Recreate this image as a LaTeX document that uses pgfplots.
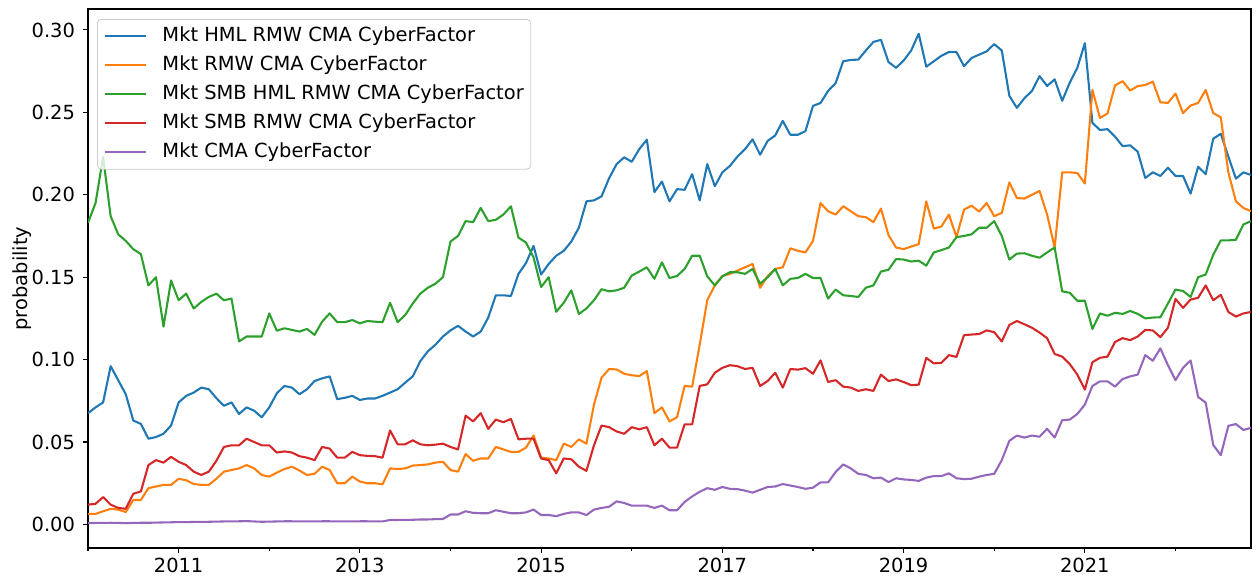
\documentclass[border=0pt]{standalone}
\usepackage{fontspec}
\setmainfont{DejaVu Sans}
\usepackage{pgfplots}
\pgfplotsset{compat=1.18}
\usepackage{pgfplotstable}
\usetikzlibrary{calc}
\definecolor{c0}{HTML}{1F77B4}
\definecolor{c1}{HTML}{FF7F0E}
\definecolor{c2}{HTML}{2CA02C}
\definecolor{c3}{HTML}{D62728}
\definecolor{c4}{HTML}{9467BD}
\newcommand{\ff}{\fontsize{9.72pt}{11.7pt}\selectfont}
\pgfplotstableread{
i blue orange green red purple
0 0.0675 0.0064 0.183 0.012 0.0008
1 0.071 0.0064 0.195 0.0125 0.0009
2 0.074 0.008 0.223 0.0166 0.0009
3 0.096 0.0095 0.187 0.012 0.0010
4 0.0875 0.009 0.176 0.010 0.0009
5 0.079 0.0075 0.172 0.0095 0.0008
6 0.063 0.0148 0.167 0.0186 0.0009
7 0.061 0.0148 0.164 0.020 0.0010
8 0.052 0.022 0.145 0.036 0.0010
9 0.053 0.023 0.150 0.039 0.0011
10 0.055 0.024 0.120 0.0375 0.0012
11 0.060 0.024 0.148 0.041 0.0013
12 0.074 0.0277 0.136 0.038 0.0014
13 0.078 0.0268 0.140 0.036 0.0014
14 0.080 0.0245 0.131 0.032 0.0015
15 0.083 0.024 0.135 0.030 0.0015
16 0.082 0.024 0.138 0.032 0.0016
17 0.0766 0.0277 0.140 0.0386 0.0017
18 0.072 0.032 0.136 0.047 0.0018
19 0.074 0.033 0.137 0.048 0.0018
20 0.067 0.034 0.111 0.048 0.0019
21 0.071 0.036 0.114 0.052 0.0020
22 0.069 0.034 0.114 0.050 0.0018
23 0.065 0.030 0.114 0.048 0.0016
24 0.071 0.029 0.128 0.048 0.0017
25 0.0795 0.0314 0.1175 0.0436 0.0018
26 0.084 0.0336 0.119 0.0443 0.0019
27 0.083 0.035 0.118 0.0436 0.0019
28 0.079 0.0327 0.117 0.0414 0.0018
29 0.082 0.030 0.1186 0.0405 0.0018
30 0.087 0.0307 0.115 0.039 0.0018
31 0.0886 0.035 0.123 0.047 0.0019
32 0.0898 0.033 0.128 0.046 0.0019
33 0.076 0.025 0.1227 0.0405 0.0018
34 0.0768 0.025 0.1227 0.0405 0.0018
35 0.078 0.029 0.124 0.044 0.0018
36 0.0755 0.026 0.122 0.042 0.0019
37 0.0764 0.025 0.1234 0.0416 0.0019
38 0.0764 0.025 0.123 0.0414 0.0018
39 0.078 0.0243 0.1227 0.0405 0.0018
40 0.080 0.034 0.1345 0.057 0.0027
41 0.082 0.0336 0.1227 0.0486 0.0027
42 0.086 0.034 0.127 0.0486 0.0028
43 0.0898 0.0357 0.134 0.051 0.0028
44 0.099 0.036 0.140 0.0486 0.0030
45 0.105 0.0364 0.1436 0.048 0.0030
46 0.109 0.0375 0.146 0.0484 0.0032
47 0.114 0.038 0.150 0.049 0.0033
48 0.1177 0.033 0.1716 0.047 0.006
49 0.1205 0.032 0.175 0.0455 0.006
50 0.117 0.0427 0.184 0.066 0.008
51 0.114 0.0386 0.1834 0.0625 0.007
52 0.117 0.040 0.192 0.0675 0.0068
53 0.1255 0.040 0.184 0.058 0.0068
54 0.139 0.047 0.1848 0.0636 0.0086
55 0.139 0.0455 0.188 0.062 0.0077
56 0.1386 0.044 0.193 0.064 0.0068
57 0.152 0.044 0.174 0.0516 0.0068
58 0.1586 0.0466 0.171 0.052 0.0073
59 0.169 0.054 0.162 0.052 0.009
60 0.1516 0.0405 0.144 0.040 0.0057
61 0.158 0.040 0.150 0.039 0.0057
62 0.163 0.039 0.129 0.031 0.005
63 0.166 0.049 0.1345 0.040 0.0064
64 0.1716 0.047 0.142 0.0395 0.0073
65 0.180 0.0516 0.1277 0.035 0.0073
66 0.196 0.049 0.131 0.0325 0.0057
67 0.1966 0.0727 0.136 0.048 0.009
68 0.199 0.089 0.1427 0.060 0.010
69 0.210 0.0943 0.1414 0.059 0.0107
70 0.2186 0.094 0.142 0.0564 0.014
71 0.2227 0.0914 0.1436 0.055 0.013
72 0.220 0.0905 0.151 0.059 0.0114
73 0.2277 0.090 0.1534 0.0577 0.0114
74 0.2334 0.093 0.156 0.059 0.0114
75 0.2016 0.0675 0.149 0.048 0.010
76 0.208 0.071 0.159 0.052 0.0114
77 0.196 0.0625 0.1495 0.0466 0.0086
78 0.2034 0.065 0.1507 0.0466 0.0086
79 0.203 0.084 0.155 0.0607 0.0136
80 0.2125 0.0836 0.163 0.0607 0.017
81 0.1966 0.109 0.163 0.084 0.0198
82 0.2186 0.136 0.1505 0.085 0.022
83 0.2052 0.145 0.145 0.092 0.021
84 0.2136 0.1507 0.1505 0.095 0.0227
85 0.2175 0.152 0.153 0.0966 0.0216
86 0.2232 0.154 0.153 0.096 0.0214
87 0.2277 0.156 0.152 0.0943 0.0205
88 0.2336 0.158 0.155 0.095 0.0193
89 0.2243 0.1436 0.146 0.084 0.021
90 0.2327 0.1507 0.150 0.087 0.0227
91 0.236 0.155 0.155 0.092 0.023
92 0.2448 0.156 0.145 0.083 0.0245
93 0.2364 0.1675 0.149 0.0943 0.0236
94 0.2364 0.166 0.1495 0.0939 0.0227
95 0.2386 0.165 0.152 0.0948 0.0216
96 0.2539 0.172 0.1495 0.0914 0.0223
97 0.2557 0.195 0.1495 0.0995 0.0255
98 0.263 0.190 0.137 0.0864 0.0255
99 0.2677 0.188 0.1425 0.0875 0.0318
100 0.281 0.193 0.139 0.0836 0.0364
101 0.2818 0.190 0.1386 0.083 0.034
102 0.282 0.187 0.138 0.081 0.0307
103 0.2875 0.1864 0.1436 0.082 0.030
104 0.2927 0.1834 0.145 0.081 0.028
105 0.294 0.1916 0.1534 0.0909 0.0284
106 0.2805 0.1755 0.1545 0.087 0.0257
107 0.277 0.168 0.161 0.088 0.028
108 0.2814 0.167 0.1607 0.0864 0.0273
109 0.2875 0.1686 0.1595 0.0845 0.027
110 0.2977 0.170 0.160 0.0848 0.0264
111 0.2777 0.196 0.157 0.101 0.0284
112 0.281 0.1795 0.165 0.0977 0.0293
113 0.2843 0.1807 0.1664 0.098 0.0293
114 0.2866 0.188 0.168 0.1027 0.031
115 0.2866 0.1743 0.1743 0.1016 0.028
116 0.278 0.191 0.175 0.1148 0.0275
117 0.283 0.1934 0.176 0.1152 0.0277
118 0.285 0.1898 0.180 0.1155 0.029
119 0.287 0.195 0.180 0.1177 0.030
120 0.2914 0.187 0.184 0.1166 0.0307
121 0.2875 0.189 0.175 0.111 0.039
122 0.260 0.2075 0.1607 0.121 0.0507
123 0.2527 0.198 0.1643 0.1234 0.0539
124 0.2586 0.1977 0.1645 0.1214 0.0527
125 0.263 0.200 0.163 0.1193 0.0539
126 0.272 0.2023 0.1618 0.1164 0.0532
127 0.266 0.188 0.165 0.113 0.058
128 0.270 0.168 0.168 0.1034 0.0527
129 0.257 0.2136 0.1414 0.1018 0.0632
130 0.268 0.2136 0.1405 0.0973 0.0636
131 0.277 0.2132 0.1357 0.0909 0.067
132 0.292 0.2068 0.1357 0.0818 0.0727
133 0.2436 0.2636 0.1186 0.0984 0.084
134 0.2393 0.2466 0.128 0.1011 0.0868
135 0.2398 0.2493 0.1266 0.1018 0.0868
136 0.2352 0.2664 0.1284 0.1107 0.0836
137 0.2295 0.2689 0.1277 0.113 0.0882
138 0.230 0.2632 0.1295 0.1118 0.0898
139 0.2261 0.2659 0.1277 0.114 0.0909
140 0.2102 0.2666 0.125 0.118 0.1027
141 0.2136 0.2686 0.1255 0.1177 0.0993
142 0.2114 0.2561 0.1257 0.1136 0.1068
143 0.2164 0.2557 0.134 0.1193 0.0966
144 0.2114 0.2614 0.1425 0.1368 0.0875
145 0.2114 0.2495 0.1416 0.1314 0.095
146 0.2007 0.2541 0.138 0.1364 0.0995
147 0.217 0.2557 0.150 0.1375 0.0773
148 0.2125 0.2636 0.1516 0.145 0.0739
149 0.234 0.2495 0.1636 0.136 0.0482
150 0.237 0.247 0.1723 0.1393 0.042
151 0.2232 0.2136 0.1723 0.1289 0.0598
152 0.2098 0.196 0.1727 0.1261 0.0609
153 0.2136 0.192 0.182 0.128 0.0573
154 0.212 0.190 0.184 0.1289 0.0586
}\data
\begin{document}
\begin{tikzpicture}
\begin{axis}[
  name=ax, at={(0,0)}, anchor=south west,
  scale only axis, width=581.5pt, height=269.5pt,
  xmin=0, xmax=154, ymin=-0.0143, ymax=0.3127,
  font=\ff,
  axis line style={line width=0.55pt},
  tick pos=left, tick align=outside,
  major tick length=2.43pt, minor tick length=1.4pt,
  every tick/.style={black, line width=0.55pt},
  xtick={12,36,60,84,108,132},
  xticklabels={2011,2013,2015,2017,2019,2021},
  minor xtick={0,24,48,72,96,120,144},
  ytick={0,0.05,0.1,0.15,0.2,0.25,0.3},
  yticklabels={0.00,0.05,0.10,0.15,0.20,0.25,0.30},
  xticklabel style={font=\ff, inner sep=0pt, anchor=north, yshift=-2.4pt},
  yticklabel style={font=\ff, inner sep=0pt, anchor=east, xshift=-3.9pt},
  ylabel={probability},
  ylabel style={font=\ff, at={(axis description cs:-0.057,0.5)}, anchor=center},
  legend cell align=left,
  legend image code/.code={\draw[#1] (0pt,0pt) -- (20.5pt,0pt);},
  legend style={at={(0,1)}, anchor=north west, xshift=4.5pt, yshift=-5pt,
    draw=black!20, rounded corners=2pt, fill=white, fill opacity=0.8, text opacity=1,
    font=\ff, inner xsep=3.5pt, inner ysep=3.8pt, row sep=5.2pt, column sep=7.5pt,
    nodes={inner sep=0pt, text height=7.3pt, text depth=2pt}},
  every axis plot/.append style={line width=1.04pt, line join=round},
]
\addplot[c0] table[x=i,y=blue]{\data};
\addlegendentry{Mkt HML RMW CMA CyberFactor}
\addplot[c1] table[x=i,y=orange]{\data};
\addlegendentry{Mkt RMW CMA CyberFactor}
\addplot[c2] table[x=i,y=green]{\data};
\addlegendentry{Mkt SMB HML RMW CMA CyberFactor}
\addplot[c3] table[x=i,y=red]{\data};
\addlegendentry{Mkt SMB RMW CMA CyberFactor}
\addplot[c4] table[x=i,y=purple]{\data};
\addlegendentry{Mkt CMA CyberFactor}
\end{axis}
\pgfresetboundingbox
\path[use as bounding box] ($(ax.south west)+(-44pt,-19.5pt)$) rectangle ($(ax.north east)+(4.5pt,4.5pt)$);
\end{tikzpicture}
\end{document}
